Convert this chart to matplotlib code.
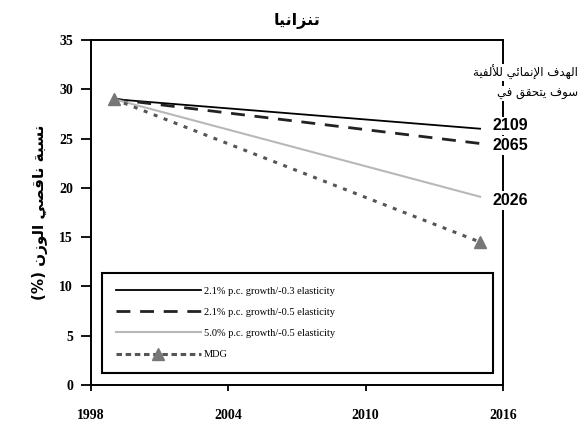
import matplotlib
matplotlib.use("Agg")
import matplotlib.pyplot as plt

# Data
years = [1999, 2015]
series_labels = ["2.1% p.c. growth/-0.3 elasticity",
                 "2.1% p.c. growth/-0.5 elasticity",
                 "5.0% p.c. growth/-0.5 elasticity",
                 "MDG"]
growth_21_03 = [29.0, 26.0]
growth_21_05 = [29.0, 24.5]
growth_50_05 = [29.0, 19.1]
mdg = [29.0, 14.5]
end_years = ["2109", "2065", "2026"]
xticks = [1998, 2004, 2010, 2016]
yticks = [0, 5, 10, 15, 20, 25, 30, 35]

title_txt = "تنزانيا"
ylabel_txt = "نسبة ناقصي الوزن (%)"
note_line1 = "الهدف الإنمائي للألفية"
note_line2 = "سوف يتحقق في"

# simple arabic shaping (matplotlib does not join letters by itself)
FORMS = {
    'ا': (0xFE8D, 0xFE8E, None, None),
    'أ': (0xFE83, 0xFE84, None, None),
    'إ': (0xFE87, 0xFE88, None, None),
    'ب': (0xFE8F, 0xFE90, 0xFE91, 0xFE92),
    'ة': (0xFE93, 0xFE94, None, None),
    'ت': (0xFE95, 0xFE96, 0xFE97, 0xFE98),
    'ح': (0xFEA1, 0xFEA2, 0xFEA3, 0xFEA4),
    'د': (0xFEA9, 0xFEAA, None, None),
    'ز': (0xFEAF, 0xFEB0, None, None),
    'س': (0xFEB1, 0xFEB2, 0xFEB3, 0xFEB4),
    'ص': (0xFEB9, 0xFEBA, 0xFEBB, 0xFEBC),
    'ف': (0xFED1, 0xFED2, 0xFED3, 0xFED4),
    'ق': (0xFED5, 0xFED6, 0xFED7, 0xFED8),
    'ل': (0xFEDD, 0xFEDE, 0xFEDF, 0xFEE0),
    'م': (0xFEE1, 0xFEE2, 0xFEE3, 0xFEE4),
    'ن': (0xFEE5, 0xFEE6, 0xFEE7, 0xFEE8),
    'ه': (0xFEE9, 0xFEEA, 0xFEEB, 0xFEEC),
    'و': (0xFEED, 0xFEEE, None, None),
    'ي': (0xFEF1, 0xFEF2, 0xFEF3, 0xFEF4),
    'ئ': (0xFE89, 0xFE8A, 0xFE8B, 0xFE8C),
}
LAMALEF = {'ا': (0xFEFB, 0xFEFC), 'أ': (0xFEF7, 0xFEF8), 'إ': (0xFEF9, 0xFEFA)}


def joins_next(c):
    return c in FORMS and FORMS[c][2] is not None


def shape(s):
    res = []
    i = 0
    n = len(s)
    while i < n:
        c = s[i]
        if c not in FORMS:
            res.append(c)
            i += 1
            continue
        prev = s[i - 1] if i > 0 else ''
        link_prev = joins_next(prev)
        if c == 'ل' and i + 1 < n and s[i + 1] in LAMALEF:
            iso, fin = LAMALEF[s[i + 1]]
            res.append(chr(fin if link_prev else iso))
            i += 2
            continue
        nxt = s[i + 1] if i + 1 < n else ''
        link_next = joins_next(c) and nxt in FORMS
        iso, fin, ini, med = FORMS[c]
        if link_prev and link_next:
            f = med
        elif link_prev:
            f = fin
        elif link_next:
            f = ini
        else:
            f = iso
        res.append(chr(f))
        i += 1
    out = ''.join(res)[::-1]
    return out.translate(str.maketrans('()', ')('))


fig = plt.figure(figsize=(5.81, 4.28), dpi=100)
ax = fig.add_axes([0.1566, 0.1005, 0.7091, 0.806])

ax.plot(years, growth_21_03, color='black', lw=1.3, label=series_labels[0])
ax.plot(years, growth_21_05, color='#222222', lw=2.0, ls=(0, (5, 3.5)), label=series_labels[1])
ax.plot(years, growth_50_05, color='#b8b8b8', lw=1.5, label=series_labels[2])
ax.plot(years, mdg, color='#555555', lw=2.2, ls=(0, (1.3, 2.2)), marker='^',
        markersize=9, markerfacecolor='#777777', markeredgecolor='#777777', label=series_labels[3])

ax.set_xlim(1998, 2016)
ax.set_ylim(0, 35)
ax.set_xticks(xticks)
ax.set_yticks(yticks)
for lab in ax.get_xticklabels() + ax.get_yticklabels():
    lab.set_fontfamily('Liberation Serif')
    lab.set_fontweight('bold')
    lab.set_fontsize(10)
ax.tick_params(axis='y', direction='out', length=7, width=1.3, pad=6)
ax.tick_params(axis='x', direction='out', length=4, width=1.3, pad=13)
for sp in ax.spines.values():
    sp.set_linewidth(1.4)

ax.set_title(shape(title_txt), fontfamily='DejaVu Sans', fontweight='bold', fontsize=11.5, pad=11)
ax.set_ylabel(shape(ylabel_txt), fontfamily='DejaVu Sans', fontweight='bold', fontsize=11, labelpad=8)

# end-year labels on the right
label_offsets = [2, -1.5, -2.5]
for txt, yv, dy in zip(end_years, [growth_21_03[1], growth_21_05[1], growth_50_05[1]], label_offsets):
    ax.annotate(txt, xy=(2016, yv), xytext=(5.5, dy), textcoords='offset points',
                ha='center', va='center', fontfamily='Liberation Sans', fontweight='bold',
                fontsize=11.5, bbox=dict(boxstyle='square,pad=0.12', fc='white', ec='none'),
                annotation_clip=False, zorder=5)

fig.text(0.995, 0.83, shape(note_line1), ha='right', va='center', fontfamily='DejaVu Sans',
         fontsize=8.5, bbox=dict(boxstyle='square,pad=0.1', fc='white', ec='none'), zorder=5)
fig.text(0.995, 0.782, shape(note_line2), ha='right', va='center', fontfamily='DejaVu Sans',
         fontsize=8.5, bbox=dict(boxstyle='square,pad=0.1', fc='white', ec='none'), zorder=5)

leg = ax.legend(loc='lower left', bbox_to_anchor=(0.027, 0.035, 0.949, 0.3), mode='expand',
                prop={'family': 'Liberation Serif', 'size': 7.5}, handlelength=8.2,
                handletextpad=0.25, labelspacing=1.15, borderpad=1.3, borderaxespad=0,
                fancybox=False, framealpha=1, edgecolor='black')
leg.get_frame().set_linewidth(1.5)
# MDG key is drawn with short dashes in the original
leg.get_lines()[3].set_linestyle((0, (1.8, 1.2)))

fig.savefig('out.png', dpi=100)
